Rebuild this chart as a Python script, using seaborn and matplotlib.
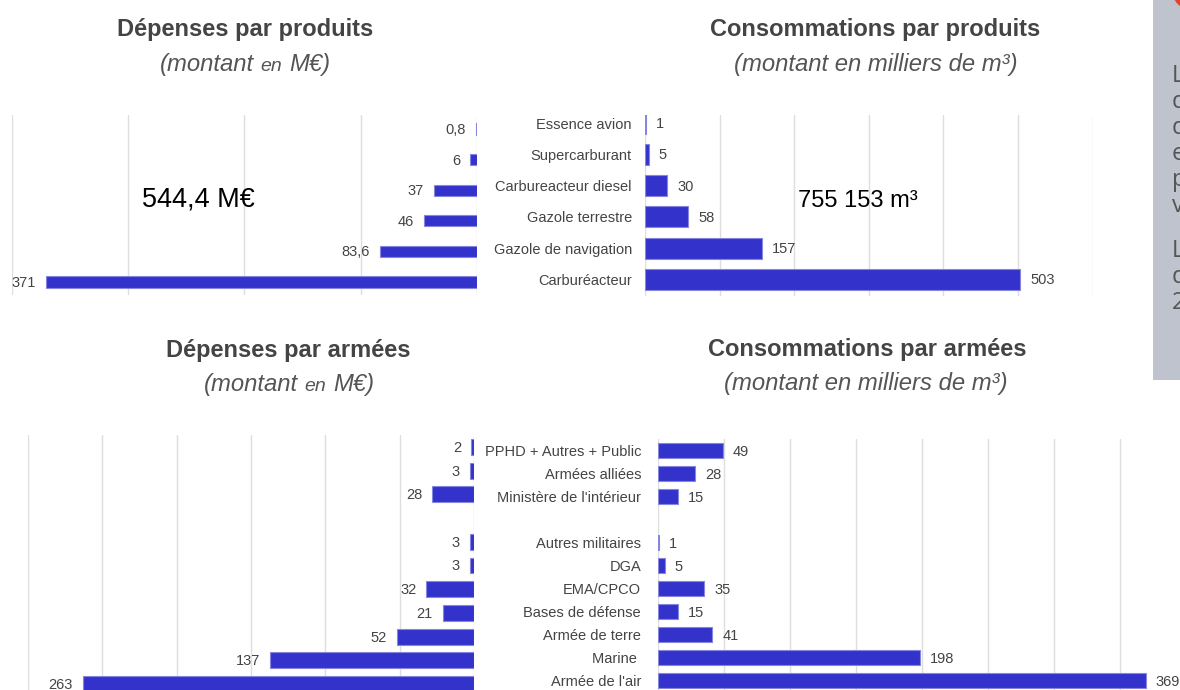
import numpy as np
import pandas as pd
import matplotlib
matplotlib.use("Agg")
import matplotlib.pyplot as plt
import seaborn as sns
from matplotlib.patches import Circle, Rectangle
from matplotlib.transforms import IdentityTransform

# ---- data -------------------------------------------------------------
produits = ["Essence avion", "Supercarburant", "Carbureacteur diesel",
            "Gazole terrestre", "Gazole de navigation", "Carburéacteur"]
depenses_produits = [0.8, 6, 37, 46, 83.6, 371]          # M€
conso_produits = [1, 5, 30, 58, 157, 503]                 # milliers de m³

armees = ["PPHD + Autres + Public", "Armées alliées", "Ministère de l'intérieur",
          "Autres militaires", "DGA", "EMA/CPCO", "Bases de défense",
          "Armée de terre", "Marine ", "Armée de l'air"]
depenses_armees = [2, 3, 28, 3, 3, 32, 21, 52, 137, 263]  # M€
conso_armees = [49, 28, 15, 1, 5, 35, 15, 41, 198, 369]   # milliers de m³

total_depenses = "544,4 M€"
total_conso = "755 153 m³"

titres = ["Dépenses par produits", "Consommations par produits",
          "Dépenses par armées", "Consommations par armées"]

# ---- style ------------------------------------------------------------
sns.set_style("white")
plt.rcParams["font.family"] = ["Liberation Sans", "DejaVu Sans"]

W, H = 1180, 690
fig = plt.figure(figsize=(W / 100, H / 100), dpi=100)
fig.patch.set_facecolor("white")

BAR = "#3333cc"
EDGE = "#8686e0"
GRID = "#dedede"
TXT = "#444444"

# civil users and military users are separated by an empty row
ordre_armees = armees[:3] + [" "] + armees[3:]


def px_axes(x0, y0, x1, y1):
    return fig.add_axes([x0 / W, 1 - y1 / H, (x1 - x0) / W, (y1 - y0) / H])


def bar_panel(box, cats, vals, order, xmax, step, first_c, spacing, width,
              mirrored, labelpad=None):
    x0, y0, x1, y1 = box
    ax = px_axes(x0, y0, x1, y1)
    df = pd.DataFrame({"cat": cats, "val": vals})
    sns.barplot(data=df, x="val", y="cat", order=order, orient="h",
                color=BAR, saturation=1, width=width, edgecolor=EDGE,
                linewidth=0.8, errorbar=None, ax=ax)
    if mirrored:
        ax.set_xlim(xmax, 0)
    else:
        ax.set_xlim(0, xmax)
    ax.set_ylim((y1 - first_c) / spacing, (y0 - first_c) / spacing)
    ax.set_xticks(np.arange(0, xmax + 1, step))
    ax.grid(axis="x", color=GRID, linewidth=1)
    ax.grid(axis="y", visible=False)
    ax.set_axisbelow(True)
    ax.set_xlabel("")
    ax.set_ylabel("")
    for s in ax.spines.values():
        s.set_visible(False)
    ax.tick_params(length=0, labelbottom=False)
    if mirrored:
        ax.tick_params(axis="y", labelleft=False)
    else:
        ax.tick_params(axis="y", pad=labelpad, labelsize=10.5, labelcolor=TXT)
    for c, v in zip(cats, vals):
        yi = order.index(c)
        txt = f"{v:g}".replace(".", ",")
        ax.annotate(txt, xy=(v, yi), xytext=(-10 if mirrored else 10, -1),
                    textcoords="offset pixels", ha="right" if mirrored else "left",
                    va="center", fontsize=10.5, color=TXT)
    return ax


# ---- the four bar charts -----------------------------------------------
bar_panel((12, 115, 477, 295), produits, depenses_produits, produits,
          400, 100, 129, 30.6, 0.36, True)
bar_panel((645, 115, 1092.6, 295.7), produits, conso_produits, produits,
          600, 100, 123.2, 31.25, 0.67, False, labelpad=9.4)
bar_panel((28, 435.2, 474, 696), armees, depenses_armees, ordre_armees,
          300, 50, 447, 23.7, 0.675, True)
bar_panel((658, 439.2, 1186.5, 692.2), armees, conso_armees, ordre_armees,
          400, 50, 450.7, 23, 0.64, False, labelpad=12.2)

# ---- titles --------------------------------------------------------------
for (cx, by), t in zip([(245, 36), (875, 36), (288, 357), (867, 356)], titres):
    fig.text(cx / W, 1 - by / H, t, ha="center", va="baseline",
             fontsize=17, fontweight="bold", color=TXT)


def rich_line(cx, by, parts, gap=6.8):
    texts = [fig.text(0, 1 - by / H, t, fontsize=s, style="italic",
                      color="#555555", va="baseline") for t, s in parts]
    fig.canvas.draw()
    r = fig.canvas.get_renderer()
    widths = [t.get_window_extent(r).width for t in texts]
    total = sum(widths) + gap * (len(parts) - 1)
    x = cx - total / 2
    for t, w in zip(texts, widths):
        t.set_x(x / W)
        x += w + gap


rich_line(245, 71, [("(montant", 17.2), ("en", 14), ("M€)", 17.2)])
rich_line(876, 71, [("(montant en milliers de m³)", 17.2)])
rich_line(289, 391, [("(montant", 17.2), ("en", 14), ("M€)", 17.2)])
rich_line(866, 390, [("(montant en milliers de m³)", 17.2)])

# ---- totals ----------------------------------------------------------------
fig.text(142 / W, 1 - 206 / H, total_depenses, ha="left", va="baseline",
         fontsize=19.5, color="black")
fig.text(798 / W, 1 - 207 / H, total_conso, ha="left", va="baseline",
         fontsize=17, color="black")

# ---- side note panel ---------------------------------------------------------
fig.patches.append(Rectangle((1153 / W, 1 - 380 / H), 40 / W, 380 / H,
                             transform=fig.transFigure, facecolor="#bec3cd",
                             edgecolor="none", zorder=0))
# red badge peeking in at the top corner (display pixels, origin bottom-left)
fig.patches.append(Circle((1192, H + 10), 20, transform=IdentityTransform(),
                          facecolor="#e8402a", edgecolor="none", zorder=1))
note = [("L", 82), ("d", 108), ("d", 134), ("e", 160), ("p", 186), ("v", 212),
        ("L", 257), ("d", 283), ("2", 309)]
for ch, by in note:
    fig.text(1172 / W, 1 - by / H, ch, ha="left", va="baseline", fontsize=17,
             family=["Open Sans", "DejaVu Sans"], color="#555555")

fig.savefig("out.png", dpi=100)
